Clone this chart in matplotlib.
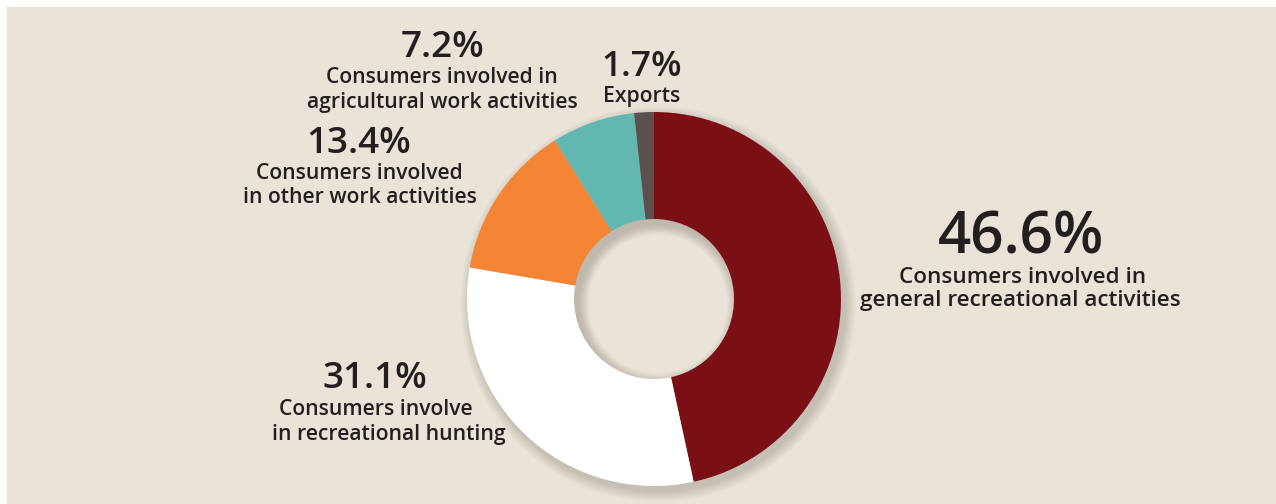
import matplotlib.pyplot as plt
from matplotlib.patches import Wedge, Rectangle

# donut data (share of consumption, %)
shares = [46.6, 31.1, 13.4, 7.2, 1.7]
pct_labels = ["46.6%", "31.1%", "13.4%", "7.2%", "1.7%"]
desc_labels = [
    ["Consumers involved in", "general recreational activities"],
    ["Consumers involve", "in recreational hunting"],
    ["Consumers involved", "in other work activities"],
    ["Consumers involved in", "agricultural work activities"],
    ["Exports"],
]
colors = ["#7a1016", "#ffffff", "#f48535", "#62b7b0", "#5b504e"]

W, H = 1276, 504
bg = "#eae3d7"
ink = "#231f20"
plt.rcParams['font.family'] = ['Open Sans', 'DejaVu Sans']

fig = plt.figure(figsize=(W / 100, H / 100), dpi=100)
fig.patch.set_facecolor("white")
ax = fig.add_axes([0, 0, 1, 1])


def y(py):
    # pixel row (from top) -> data y
    return H - py


# beige panel with thin white margin top/left
ax.add_patch(Rectangle((7, 0), W - 7, H - 7, color=bg, zorder=0))

cx, cy = 654, y(299)
r_out, r_in = 187, 80
sh = "#3a2e25"

# soft drop shadow (ring only, so the hole is left alone)
for s in range(12, 0, -1):
    ro = r_out + s * 0.9
    ax.add_patch(Wedge((cx + 4, cy - 5), ro, 0, 360, width=ro - (r_in + 30),
                       color=sh, alpha=0.016, lw=0, zorder=1))
# inner shadow seen inside the hole
for s in range(12, 0, -1):
    ax.add_patch(Wedge((cx + 4, cy - 5), r_in + 30, 0, 360, width=30 + s * 0.9,
                       color=sh, alpha=0.02, lw=0, zorder=1))

wedges, _ = ax.pie(shares, colors=colors, startangle=90, counterclock=False,
                   center=(cx, cy), radius=r_out,
                   wedgeprops=dict(width=r_out - r_in, edgecolor='none'),
                   frame=True)
for w in wedges:
    w.set_zorder(2)
ax.set_xlim(0, W)
ax.set_ylim(0, H)
ax.set_aspect('equal')
ax.axis('off')

# label layout: (x centre of number, baseline number, number size pt,
#                list of (x centre, baseline) for description lines, desc size pt)
layout = [
    (1021, 253, 42, [(1023, 283), (1020, 306)], 16.2),
    (375, 388, 26.5, [(376, 415), (389, 440)], 15.2),
    (359, 153, 26.5, [(359, 179), (360, 203)], 15.2),
    (443, 57, 26.5, [(442, 83), (442, 108)], 15.2),
    (642, 76, 25.5, [(642, 102)], 15.2),
]

for pct, lines, (nx, nb, nsize, pos, dsize) in zip(pct_labels, desc_labels, layout):
    ax.text(nx, y(nb), pct, ha='center', va='baseline', fontsize=nsize,
            fontweight='semibold', color=ink, zorder=3)
    for line, (lx, lb) in zip(lines, pos):
        ax.text(lx, y(lb), line, ha='center', va='baseline', fontsize=dsize,
                fontweight='semibold', color=ink, zorder=3)

fig.savefig("out.png", dpi=100, facecolor=fig.get_facecolor())
